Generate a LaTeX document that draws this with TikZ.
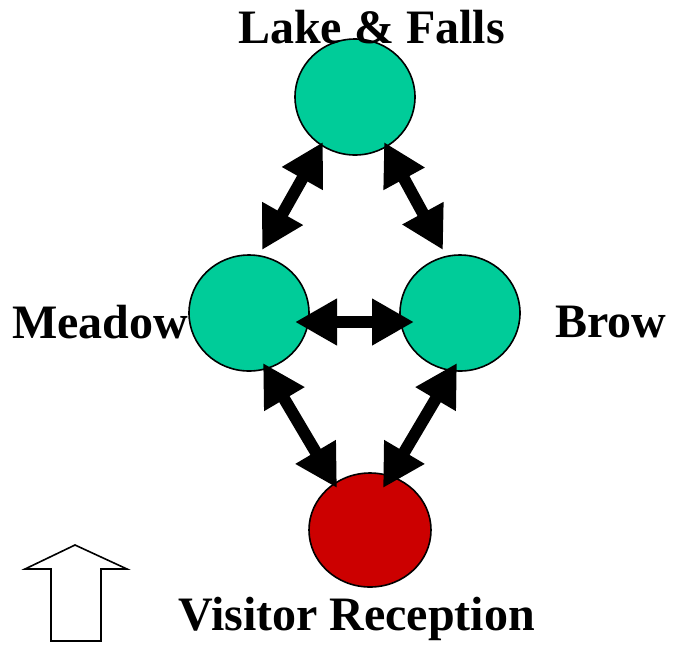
\documentclass[tikz,border=0pt]{standalone}
\usepackage{fontspec}
\setmainfont{Liberation Serif}
\usetikzlibrary{shapes.geometric,arrows.meta,calc}
\definecolor{teal}{RGB}{0,204,153}
\definecolor{redfill}{RGB}{204,0,0}
\begin{document}
\begin{tikzpicture}[x=1pt,y=-1pt,
  place/.style={ellipse,draw=black,line width=1.6pt,minimum width=120pt,minimum height=116pt,inner sep=0pt},
  link/.style={line width=12pt,{Triangle[width=44pt,length=42pt]}-{Triangle[width=44pt,length=42pt]}},
  lbl/.style={inner sep=0pt,anchor=base west,font=\fontsize{48}{58}\selectfont\bfseries}]
\useasboundingbox (0,0) rectangle (676,646);
\node[place,fill=teal] (lake) at (355,97) {};
\node[place,fill=teal] (meadow) at (249,313) {};
\node[place,fill=teal] (brow) at (460,313) {};
\node[place,fill=redfill,minimum width=122pt,minimum height=114pt] (visitor) at (370,530) {};
\draw[link] ($(lake)+(-32,45)$) -- ($(meadow)+(13,-63)$);
\draw[link] ($(lake)+(29,45)$) -- ($(brow)+(-17,-63)$);
\draw[link] ($(meadow)+(46,9)$) -- ($(brow)+(-46,9)$);
\draw[link] ($(meadow)+(14,50)$) -- ($(visitor)+(-33,-42)$);
\draw[link] ($(brow)+(-3,50)$) -- ($(visitor)+(13,-42)$);
\node[lbl] (tlake) at (238,43) {Lake \& Falls};
\node[lbl] (tmeadow) at (12,338) {Meadow};
\node[lbl] (tbrow) at (555,337) {Brow};
\node[lbl] (tvisitor) at (178,630) {Visitor Reception};
\draw[line width=1.6pt,line join=miter] (75,545) -- (127,569) -- (101,569) -- (101,641) -- (51,641) -- (51,569) -- (25,569) -- cycle;
\end{tikzpicture}
\end{document}
